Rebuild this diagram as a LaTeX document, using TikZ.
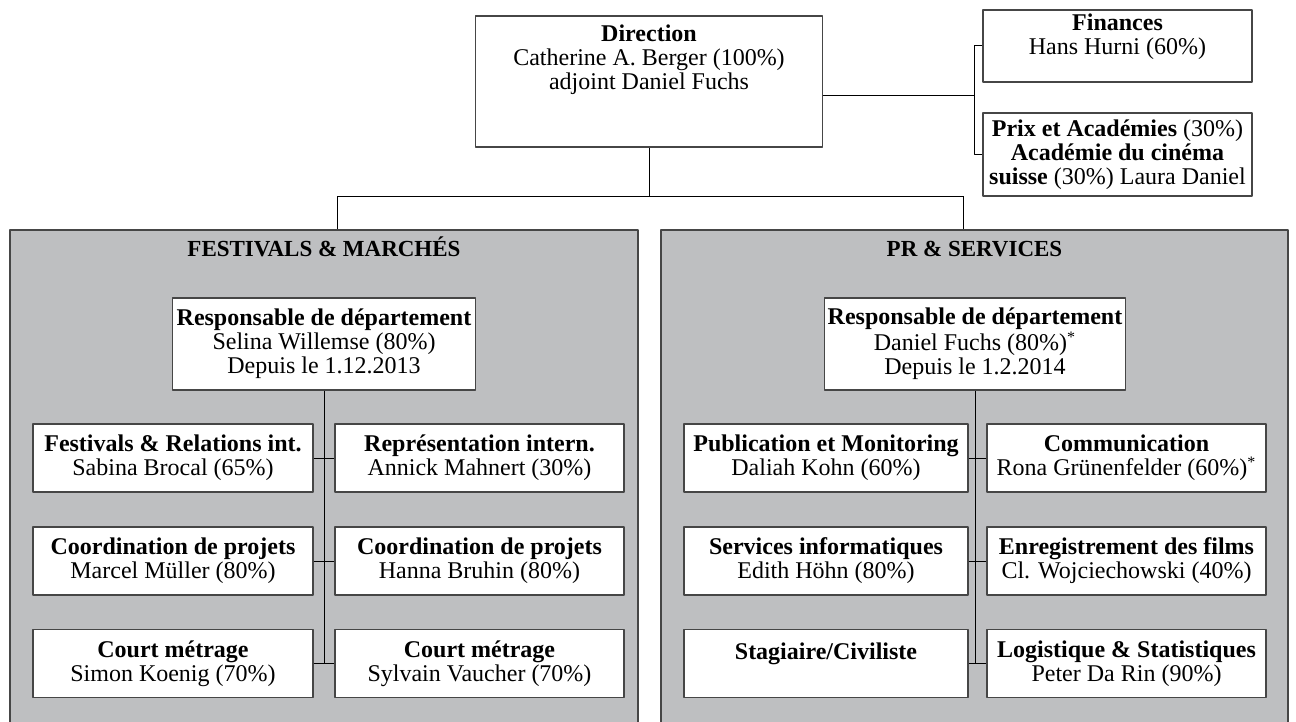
\documentclass[tikz,border=0pt]{standalone}
\usepackage{fontspec}
\setmainfont{Liberation Serif}
\definecolor{panelgray}{RGB}{190,191,193}
\definecolor{boxline}{RGB}{70,70,70}
\begin{document}
\begin{tikzpicture}[x=.5pt,y=-.5pt,line join=round,font=\fontsize{12}{12}\selectfont,
	unit/.style={draw=boxline,line width=.6pt,fill=white,align=center,inner sep=0pt},
	dept/.style={draw=boxline,line width=.9pt,fill=panelgray,inner sep=0pt,minimum width=314pt,minimum height=265pt},
	depttitle/.style={font=\fontsize{11.5}{12}\selectfont\bfseries,text height=8pt,text depth=2pt},
	link/.style={draw=black,line width=.5pt}]
	%========================
	\useasboundingbox (0,0) rectangle (1296,722);
	\clip (0,0) rectangle (1296,722);
	\node[dept] (fest) at (324,495) {};
	\node[dept,minimum width=313.5pt] (serv) at (974.5,495) {};
	\node[depttitle] (festtitle) at (324,250) {FESTIVALS \& MARCHÉS};
	\node[depttitle] (servtitle) at (974.5,250) {PR \& SERVICES};
	% direction
	\coordinate (split) at (649,196);
	\coordinate (dropL) at (337,196);
	\coordinate (dropR) at (963,196);
	\coordinate (fork) at (974,96);
	\node[unit,minimum width=173.5pt,minimum height=65.5pt] (dir) at (649,81.5) {\textbf{Direction}\\Catherine A. Berger (100\%)\\adjoint Daniel Fuchs\\~\\~};
	\node[unit,minimum width=134.5pt,minimum height=36pt] (fin) at (1117.5,46) {\textbf{Finances}\\Hans Hurni (60\%)\\~};
	\node[unit,minimum width=134.5pt,minimum height=41.5pt] (prix) at (1117.5,154.5) {\textbf{Prix et Académies} (30\%)\\\textbf{Académie du cinéma}\\\textbf{suisse} (30\%) Laura Daniel};
	\draw[link] (dir.south) -- (split);
	\draw[link] (dropL) -- (dropR);
	\draw[link] (dropL) -- (dropL |- fest.north);
	\draw[link] (dropR) -- (dropR |- serv.north);
	\draw[link] (dir.east |- fork) -- (fork);
	\draw[link] (fin.west) -| (fork) |- (prix.west);
	%========================
	% festivals & marches
	\node[unit,minimum width=151.5pt,minimum height=46pt] (fresp) at (324,344) {\textbf{Responsable de département}\\Selina Willemse (80\%)\\Depuis le 1.12.2013};
	\node[unit,minimum width=140pt,minimum height=34pt] (fa1) at (173,458) {\textbf{Festivals \& Relations int.}\\Sabina Brocal (65\%)};
	\node[unit,minimum width=144.5pt,minimum height=34pt] (fb1) at (479.5,458) {\textbf{Représentation intern.}\\Annick Mahnert (30\%)};
	\node[unit,minimum width=140pt,minimum height=34pt] (fa2) at (173,561) {\textbf{Coordination de projets}\\Marcel Müller (80\%)};
	\node[unit,minimum width=144.5pt,minimum height=34pt] (fb2) at (479.5,561) {\textbf{Coordination de projets}\\Hanna Bruhin (80\%)};
	\node[unit,minimum width=140pt,minimum height=34pt] (fa3) at (173,663.5) {\textbf{Court métrage}\\Simon Koenig (70\%)};
	\node[unit,minimum width=144.5pt,minimum height=34pt] (fb3) at (479.5,663.5) {\textbf{Court métrage}\\Sylvain Vaucher (70\%)};
	\draw[link] (fresp.south) -- (fresp.south |- fa3.east);
	\draw[link] (fa1.east) -- (fb1.west);
	\draw[link] (fa2.east) -- (fb2.west);
	\draw[link] (fa3.east) -- (fb3.west);
	%========================
	% pr & services
	\node[unit,minimum width=150.5pt,minimum height=46pt] (sresp) at (975,344) {\textbf{Responsable de département}\\Daniel Fuchs (80\%)\textsuperscript{*}\\Depuis le 1.2.2014};
	\node[unit,minimum width=142pt,minimum height=34pt] (sa1) at (826,458) {\textbf{Publication et Monitoring}\\Daliah Kohn (60\%)};
	\node[unit,minimum width=139.5pt,minimum height=34pt] (sb1) at (1126.5,458) {\textbf{Communication}\\Rona Grünenfelder (60\%)\textsuperscript{*}};
	\node[unit,minimum width=142pt,minimum height=34pt] (sa2) at (826,561) {\textbf{Services informatiques}\\Edith Höhn (80\%)};
	\node[unit,minimum width=139.5pt,minimum height=34pt] (sb2) at (1126.5,561) {\textbf{Enregistrement des films}\\Cl. Wojciechowski (40\%)};
	\node[unit,minimum width=142pt,minimum height=34pt] (sa3) at (826,663.5) {\textbf{Stagiaire/Civiliste}\\~};
	\node[unit,minimum width=139.5pt,minimum height=34pt] (sb3) at (1126.5,663.5) {\textbf{Logistique \& Statistiques}\\Peter Da Rin (90\%)};
	\draw[link] (sresp.south) -- (sresp.south |- sa3.east);
	\draw[link] (sa1.east) -- (sb1.west);
	\draw[link] (sa2.east) -- (sb2.west);
	\draw[link] (sa3.east) -- (sb3.west);
	%========================
\end{tikzpicture}
\end{document}
